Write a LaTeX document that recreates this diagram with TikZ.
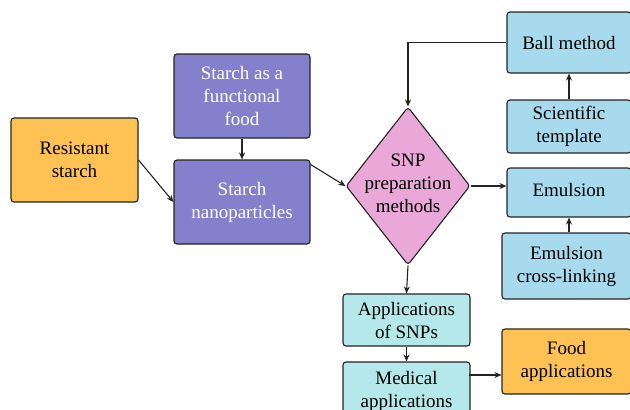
\documentclass[tikz,border=0pt]{standalone}
\usepackage{fontspec}
\setmainfont{Liberation Serif}
\usetikzlibrary{shapes.geometric,arrows.meta}
\definecolor{orangebox}{RGB}{253,193,84}
\definecolor{purplebox}{RGB}{132,128,204}
\definecolor{bluebox}{RGB}{168,218,238}
\definecolor{cyanbox}{RGB}{180,232,234}
\definecolor{pinkbox}{RGB}{234,168,216}
\definecolor{edgecol}{RGB}{35,35,35}
\begin{document}
\begin{tikzpicture}[x=1pt,y=-1pt,
  box/.style={draw=edgecol, line width=1.1pt, rounded corners=3pt, align=center,
    inner sep=0pt, font=\fontsize{19}{23}\selectfont},
  arr/.style={draw=edgecol, line width=1.1pt, -{Stealth[length=7pt,width=6pt]}}]
\useasboundingbox (0,0) rectangle (630,410);
\clip (0,0) rectangle (630,410);
\node[box, fill=orangebox, minimum width=127pt, minimum height=84pt] (rs) at (74.5,160) {Resistant\\starch};
\node[box, fill=purplebox, text=white, minimum width=136pt, minimum height=84pt] (ff) at (242,96) {Starch as a\\functional\\food};
\node[box, fill=purplebox, text=white, minimum width=136pt, minimum height=84pt] (sn) at (242,202) {Starch\\nanoparticles};
\node[diamond, draw=edgecol, line width=1.1pt, fill=pinkbox, rounded corners=3pt, minimum width=124pt, minimum height=158pt, inner sep=0pt] (d) at (408,186) {};
\node[align=center, font=\fontsize{19}{23}\selectfont] (dt) at (408,183) {SNP\\preparation\\methods};
\node[box, fill=bluebox, minimum width=124pt, minimum height=61pt] (ball) at (569,42.5) {Ball method};
\node[box, fill=bluebox, minimum width=124pt, minimum height=53pt] (sci) at (569,126.5) {Scientific\\template};
\node[box, fill=bluebox, minimum width=124pt, minimum height=49pt] (emu) at (569,192.5) {\raisebox{5pt}{Emulsion}};
\node[box, fill=bluebox, minimum width=129pt, minimum height=66pt] (cl) at (566.5,266) {Emulsion\\cross-linking};
\node[box, fill=cyanbox, minimum width=127pt, minimum height=52pt] (app) at (406.5,320) {Applications\\of SNPs};
\node[box, fill=cyanbox, minimum width=127pt, minimum height=58pt] (med) at (406.5,391) {Medical\\applications};
\node[box, fill=orangebox, minimum width=129pt, minimum height=65pt] (food) at (566.5,361.5) {Food\\applications};
\draw[arr] (rs.east) -- (sn.west);
\draw[arr] (ff.south) -- (sn.north);
\draw[arr] (sn.north east) ++(0,5) -- (d.west);
\draw[arr] (ball.west) -| (d.north);
\draw[arr] (sci.north) -- (ball.south);
\draw[arr] (d.east) -- (d.east -| emu.west);
\draw[arr] (cl.north -| emu.south) -- (emu.south);
\draw[arr] (d.south) -- (app.north);
\draw[arr] (app.south) -- (med.north);
\draw[arr] (med.west |- 0,375) ++(127,0) -- (food.west |- 0,375);
\end{tikzpicture}
\end{document}
